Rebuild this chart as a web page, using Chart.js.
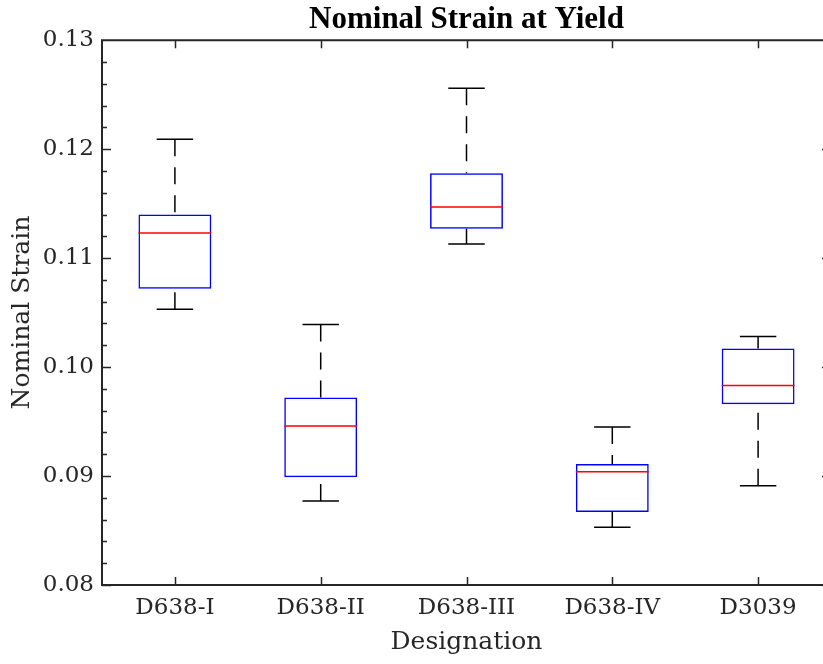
<!DOCTYPE html>
<html>
<head>
<meta charset="utf-8">
<script src="https://cdn.jsdelivr.net/npm/chart.js@4"></script>
<style>
  html, body { margin: 0; padding: 0; background: #fff; overflow: hidden; }
  canvas { display: block; }
</style>
</head>
<body>
<canvas id="boxChart" width="831" height="664"></canvas>
<script>
// box plot values
const categories = ['D638-I', 'D638-II', 'D638-III', 'D638-IV', 'D3039'];
const whiskerLow = [0.1053, 0.0877, 0.1113, 0.0853, 0.0891];
const q1 = [0.1072, 0.0899, 0.1127, 0.0867, 0.0966];
const medians = [0.1123, 0.0946, 0.1147, 0.0904, 0.0983];
const q3 = [0.1140, 0.0972, 0.1178, 0.0911, 0.1017];
const whiskerHigh = [0.1209, 0.1039, 0.1256, 0.0945, 0.1028];
const yTicks = [0.08, 0.09, 0.10, 0.11, 0.12, 0.13];

const axisColor = '#262626';
const tickFont = { family: 'DejaVu Serif', size: 23 };
const labelFont = { family: 'DejaVu Serif', size: 25 };

// whiskers, medians and the matlab style frame with inward ticks
const boxPlotExtras = {
  id: 'boxPlotExtras',
  afterDatasetsDraw(chart) {
    const ctx = chart.ctx;
    const xs = chart.scales.x;
    const ys = chart.scales.y;
    const area = chart.chartArea;
    const meta = chart.getDatasetMeta(0);

    ctx.save();
    categories.forEach((cat, i) => {
      const x = xs.getPixelForValue(i);
      const bw = meta.data[i].width;
      const capHalf = bw / 4;
      const yLo = ys.getPixelForValue(whiskerLow[i]);
      const yQ1 = ys.getPixelForValue(q1[i]);
      const yQ3 = ys.getPixelForValue(q3[i]);
      const yHi = ys.getPixelForValue(whiskerHigh[i]);
      const yMed = ys.getPixelForValue(medians[i]);

      // dashed whiskers, dash starts at the cap
      ctx.strokeStyle = '#000';
      ctx.lineWidth = 1.5;
      ctx.setLineDash([17, 11]);
      ctx.beginPath();
      ctx.moveTo(x, yHi);
      ctx.lineTo(x, yQ3);
      ctx.moveTo(x, yLo);
      ctx.lineTo(x, yQ1);
      ctx.stroke();

      // caps
      ctx.setLineDash([]);
      ctx.beginPath();
      ctx.moveTo(x - capHalf, yHi);
      ctx.lineTo(x + capHalf, yHi);
      ctx.moveTo(x - capHalf, yLo);
      ctx.lineTo(x + capHalf, yLo);
      ctx.stroke();

      // median
      ctx.strokeStyle = '#ff0000';
      ctx.beginPath();
      ctx.moveTo(x - bw / 2, yMed);
      ctx.lineTo(x + bw / 2, yMed);
      ctx.stroke();
    });

    // frame
    ctx.strokeStyle = axisColor;
    ctx.lineWidth = 2;
    ctx.beginPath();
    ctx.moveTo(area.left, area.top);
    ctx.lineTo(area.right, area.top);
    ctx.lineTo(area.right, area.bottom);
    ctx.lineTo(area.left, area.bottom);
    ctx.closePath();
    ctx.stroke();

    // y ticks, major and minor, both sides
    ctx.lineWidth = 1.5;
    ctx.beginPath();
    for (let k = 0; k < yTicks.length - 1; k++) {
      for (let m = 0; m < 5; m++) {
        const v = yTicks[k] + (yTicks[k + 1] - yTicks[k]) * m / 5;
        const y = Math.round(ys.getPixelForValue(v)) + 0.5;
        const len = m === 0 ? 9 : 5;
        ctx.moveTo(area.left, y);
        ctx.lineTo(area.left + len, y);
        ctx.moveTo(area.right, y);
        ctx.lineTo(area.right - len, y);
      }
    }
    // x ticks top and bottom
    categories.forEach((cat, i) => {
      const x = Math.round(xs.getPixelForValue(i)) + 0.5;
      ctx.moveTo(x, area.bottom);
      ctx.lineTo(x, area.bottom - 8);
      ctx.moveTo(x, area.top);
      ctx.lineTo(x, area.top + 8);
    });
    ctx.stroke();
    ctx.restore();
  }
};

const ctx = document.getElementById('boxChart').getContext('2d');
const boxChart = new Chart(ctx, {
  type: 'bar',
  data: {
    labels: categories,
    datasets: [
      {
        data: categories.map((c, i) => [q1[i], q3[i]]),
        backgroundColor: 'rgba(0,0,0,0)',
        borderColor: '#0000ff',
        borderWidth: 1.5,
        borderSkipped: false,
        barPercentage: 0.5,
        categoryPercentage: 1,
      },
    ],
  },
  options: {
    responsive: false,
    animation: false,
    layout: { padding: 0 },
    plugins: {
      legend: { display: false },
      tooltip: { enabled: false },
      title: {
        display: true,
        fullSize: false,
        text: 'Nominal Strain at Yield',
        color: '#000',
        font: { family: 'Liberation Serif', size: 31, weight: 'bold', lineHeight: 1.2 },
        padding: { top: 1, bottom: 2 },
      },
    },
    scales: {
      x: {
        grid: { display: false, drawTicks: false },
        border: { display: false },
        ticks: { color: axisColor, font: tickFont, padding: 9 },
        title: {
          display: true,
          text: 'Designation',
          color: axisColor,
          font: labelFont,
          padding: { top: 0, bottom: 7 },
        },
        afterFit(scale) {
          scale.height = 79;
        },
      },
      y: {
        min: 0.08,
        max: 0.13,
        grid: { display: false, drawTicks: false },
        border: { display: false },
        ticks: {
          stepSize: 0.01,
          color: axisColor,
          font: tickFont,
          padding: 8,
          callback: (v) => v.toFixed(2),
        },
        title: {
          display: true,
          text: 'Nominal Strain',
          color: axisColor,
          font: labelFont,
          padding: { top: 7, bottom: 0 },
        },
        afterFit(scale) {
          scale.width = 102;
        },
      },
    },
  },
  plugins: [boxPlotExtras],
});
</script>
</body>
</html>
